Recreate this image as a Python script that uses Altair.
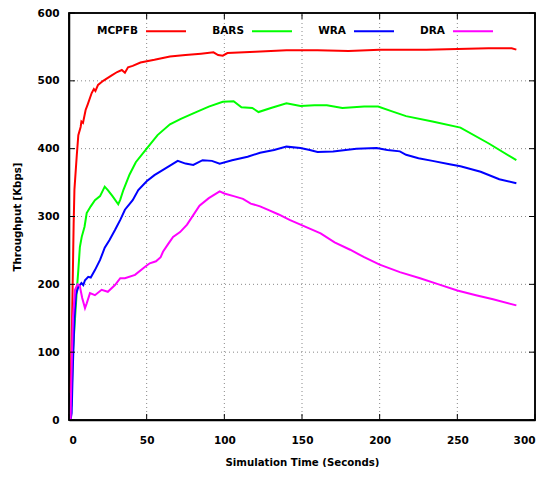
import altair as alt
import pandas as pd

series_names = ["MCPFB", "BARS", "WRA", "DRA"]
series_colors = ["#ff0000", "#00ff00", "#0000ff", "#ff00ff"]

mcpfb_t = [1, 2, 3, 3.5, 5, 6, 7.5, 8, 9, 10.7, 12, 14.6, 16, 17, 18.7, 22, 27.5, 31, 34, 36, 38, 41, 46, 55, 65, 75, 85, 93, 96, 99, 102, 120, 140, 160, 180, 200, 230, 250, 270, 285, 288]
mcpfb_v = [40, 150, 290, 340, 390, 420, 432, 440, 438, 457, 465, 482, 488, 485, 494, 500, 508, 513, 516, 512, 520, 522, 527, 531, 536, 538, 540, 542, 538, 537, 541, 543, 545, 545, 544, 546, 546, 547, 548, 548, 546]

bars_t = [1.5, 2.5, 3.9, 5, 6, 7, 8.2, 10, 11.4, 14, 16.7, 20, 23, 25, 28, 31.7, 33, 35, 39, 43, 50, 57, 65, 72, 80, 90, 99, 106, 111, 118, 122, 130, 140, 149, 158, 166, 176, 190, 199, 208, 217, 234, 252, 270, 288]
bars_v = [20, 100, 150, 190, 221, 255, 270, 285, 305, 315, 324, 330, 344, 339, 330, 318, 325, 339, 362, 380, 400, 420, 436, 444, 452, 462, 469, 470, 461, 460, 454, 460, 467, 463, 464, 464, 460, 462, 462, 455, 448, 440, 431, 408, 383]

wra_t = [1, 1.7, 2.5, 3.5, 4.5, 6, 8, 9.2, 10.3, 12.4, 14, 16.7, 20, 23, 26, 29.6, 33, 36, 41, 44.6, 50, 55, 60, 65, 70, 75, 80, 86, 92, 97, 105, 115, 123, 132, 140, 149, 155, 160, 170, 185, 198, 205, 213, 217, 225, 234, 245, 252, 265, 277, 288]
wra_v = [0, 10, 80, 150, 185, 196, 202, 199, 206, 211, 210, 221, 236, 254, 265, 280, 295, 310, 324, 339, 352, 361, 368, 375, 382, 378, 376, 383, 382, 378, 383, 388, 394, 398, 403, 401, 398, 395, 396, 400, 401, 398, 396, 391, 386, 382, 377, 374, 366, 355, 349]

dra_t = [1, 1.5, 2.5, 3.9, 5.5, 7, 8.5, 10.3, 11.4, 13.5, 16.7, 21, 25, 29.6, 33, 36, 42.5, 49, 52, 56, 59, 60.5, 64, 67, 71.5, 76, 80, 84, 90, 97, 100, 106, 112, 117, 123, 129, 135, 142, 152, 162, 171, 181, 190, 200, 213, 226, 238, 250, 262, 273, 288]
dra_v = [0, 60, 150, 192, 200, 197, 180, 165, 172, 187, 184, 192, 189, 199, 209, 209, 214, 226, 231, 234, 240, 248, 260, 270, 277, 288, 302, 316, 327, 337, 334, 330, 326, 319, 315, 309, 303, 295, 285, 275, 262, 251, 240, 229, 218, 209, 200, 191, 184, 178, 169]

x_ticks = [0, 50, 100, 150, 200, 250, 300]
y_ticks = [0, 100, 200, 300, 400, 500, 600]

rows = []
for name, ts, vs in [("MCPFB", mcpfb_t, mcpfb_v), ("BARS", bars_t, bars_v),
                     ("WRA", wra_t, wra_v), ("DRA", dra_t, dra_v)]:
    for i, (t, v) in enumerate(zip(ts, vs)):
        rows.append({"series": name, "t": t, "v": v, "i": i})
df = pd.DataFrame(rows)

x0, x1 = x_ticks[0], x_ticks[-1]
y0, y1 = y_ticks[0], y_ticks[-1]

gv_rows = []
for t in x_ticks[1:-1]:
    gv_rows += [{"g": "x%s" % t, "t": t, "v": y0, "k": 0}, {"g": "x%s" % t, "t": t, "v": y1, "k": 1}]
gh_rows = []
for v in y_ticks[1:-1]:
    gh_rows += [{"g": "y%s" % v, "t": x0, "v": v, "k": 0}, {"g": "y%s" % v, "t": x1, "v": v, "k": 1}]
gv_df = pd.DataFrame(gv_rows)
gh_df = pd.DataFrame(gh_rows)

frame_df = pd.DataFrame({"t": [x0], "t2": [x1], "v": [y0], "v2": [y1]})

xb_df = pd.DataFrame({"t": x_ticks, "v": [y0] * len(x_ticks)})
xtop_df = pd.DataFrame({"t": x_ticks, "v": [y1] * len(x_ticks)})
yl_df = pd.DataFrame({"t": [x0] * len(y_ticks), "v": y_ticks})
yr_df = pd.DataFrame({"t": [x1] * len(y_ticks), "v": y_ticks})

FONT = "DejaVu Sans"
xs = alt.Scale(domain=[x0, x1], nice=False, zero=False)
ys = alt.Scale(domain=[y0, y1], nice=False)

common_axis = dict(domain=True, domainColor="black", domainWidth=1.5, domainOpacity=1,
                   ticks=False, grid=False,
                   labelFont=FONT, labelFontWeight="bold", labelFontSize=10.5, labelColor="black",
                   titleFont=FONT, titleFontWeight="bold", titleFontSize=10.2, titleColor="black")
x_axis = alt.Axis(values=x_ticks, labelPadding=15, titlePadding=12, **common_axis)
y_axis = alt.Axis(values=y_ticks, labelPadding=10, titlePadding=15, **common_axis)


def X(field="t"):
    return alt.X(field + ":Q", scale=xs, axis=x_axis, title="Simulation Time (Seconds)")


def Y(field="v"):
    return alt.Y(field + ":Q", scale=ys, axis=y_axis, title="Throughput [Kbps]")


grid_style = dict(color="#888888", strokeWidth=1, strokeDash=[1, 3])
grid_v = alt.Chart(gv_df).mark_line(**grid_style).encode(x=X(), y=Y(), detail="g:N", order="k:Q")
grid_h = alt.Chart(gh_df).mark_line(**grid_style).encode(x=X(), y=Y(), detail="g:N", order="k:Q")

lines = alt.Chart(df).mark_line(strokeWidth=2).encode(
    x=X(),
    y=Y(),
    color=alt.Color("series:N",
                    scale=alt.Scale(domain=series_names, range=series_colors),
                    sort=series_names,
                    legend=alt.Legend(title=None, orient="none", direction="horizontal",
                                      legendX=76, legendY={"expr": "-3"}, symbolType="stroke",
                                      symbolSize=1600, symbolStrokeWidth=2,
                                      labelAlign="right", labelOffset={"expr": "-49"},
                                      labelFont=FONT, labelFontWeight="bold",
                                      labelFontSize=10.5, labelColor="black",
                                      columnPadding=22, padding=0)),
    order="i:Q",
)

frame = alt.Chart(frame_df).mark_rect(fill=None, fillOpacity=0, stroke="black",
                                      strokeWidth=1.5, strokeOpacity=1).encode(
    x=X("t"), x2="t2:Q", y=Y("v"), y2="v2:Q")

tick_style = dict(color="black", size=6, thickness=1, opacity=1)
ticks_b = alt.Chart(xb_df).mark_tick(orient="vertical", yOffset=-3, **tick_style).encode(x=X(), y=Y())
ticks_t = alt.Chart(xtop_df).mark_tick(orient="vertical", yOffset=3, **tick_style).encode(x=X(), y=Y())
ticks_l = alt.Chart(yl_df).mark_tick(orient="horizontal", xOffset=3, **tick_style).encode(x=X(), y=Y())
ticks_r = alt.Chart(yr_df).mark_tick(orient="horizontal", xOffset=-3, **tick_style).encode(x=X(), y=Y())

chart = alt.layer(grid_v, grid_h, lines, frame,
                  ticks_b, ticks_t, ticks_l, ticks_r).properties(
    width=466, height=407,
    autosize=alt.AutoSizeParams(type="none"),
    padding={"left": 61, "top": 5, "right": 3, "bottom": 47},
    background="white",
).configure_view(stroke="black", strokeWidth=1.5)

chart.save("out.html", embed_options={"renderer": "svg", "actions": False})
